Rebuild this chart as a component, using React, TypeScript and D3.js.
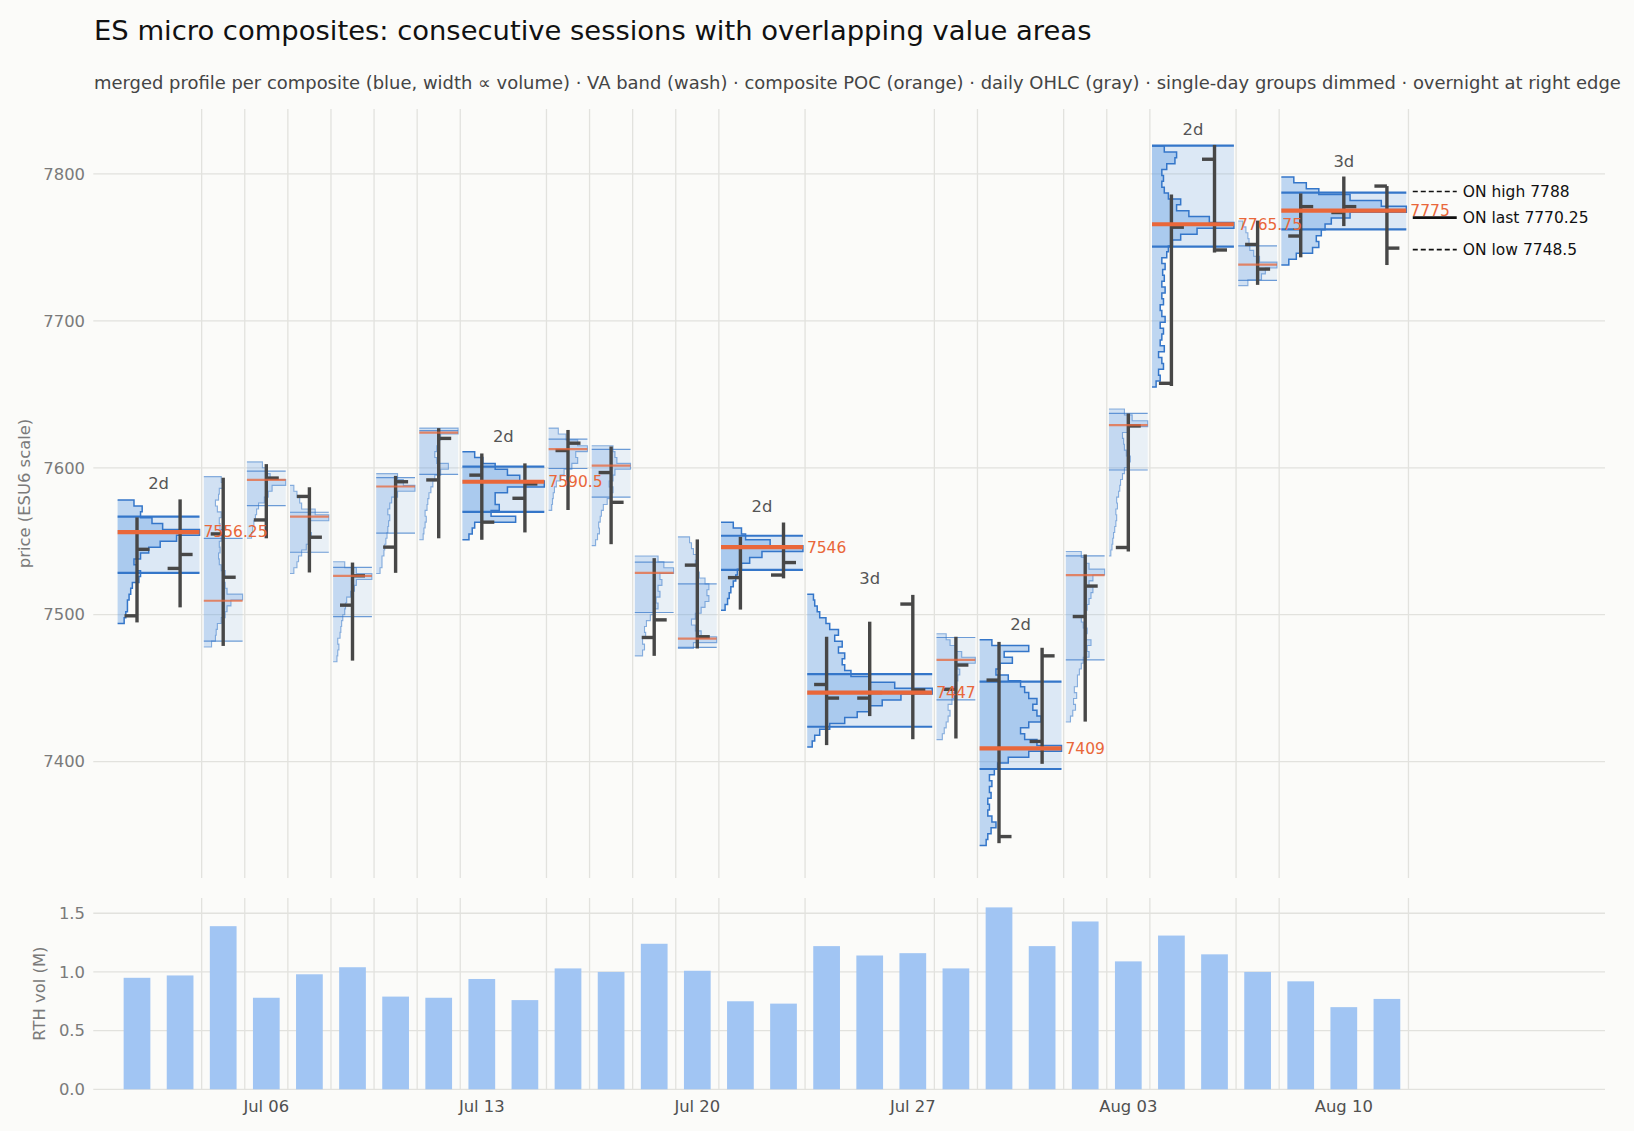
import React from 'react'
import * as d3 from 'd3'

// trading days (RTH sessions)
const days = [
  '2026-06-30', '2026-07-01', '2026-07-02',
  '2026-07-06', '2026-07-07', '2026-07-08', '2026-07-09', '2026-07-10',
  '2026-07-13', '2026-07-14', '2026-07-15', '2026-07-16', '2026-07-17',
  '2026-07-20', '2026-07-21', '2026-07-22', '2026-07-23', '2026-07-24',
  '2026-07-27', '2026-07-28', '2026-07-29', '2026-07-30', '2026-07-31',
  '2026-08-03', '2026-08-04', '2026-08-05', '2026-08-06', '2026-08-07',
  '2026-08-10', '2026-08-11',
]

const opens = [7499.25, 7531.5, 7555, 7564.5, 7580.5, 7506.5, 7546, 7591.75, 7595, 7579.25, 7611.75, 7596.75, 7484.5, 7533.75, 7525.25, 7527, 7452.5, 7443.25, 7507.25, 7449.25, 7455.5, 7413.75, 7498.75, 7545.75, 7657.5, 7810, 7752, 7757.75, 7773.75, 7791.75]
const highs = [7566.25, 7578.5, 7593.25, 7602.5, 7586.75, 7535.5, 7594.5, 7627, 7609.75, 7603, 7625.75, 7614.5, 7538.5, 7551.25, 7553, 7562.75, 7485, 7495.25, 7513.5, 7485, 7481.5, 7477.5, 7541, 7637, 7786, 7819.75, 7768.25, 7786.75, 7798.25, 7791.75]
const lows = [7494.75, 7505, 7478.75, 7552, 7528.75, 7468.75, 7528.5, 7552, 7551, 7556, 7571.25, 7548, 7472, 7477, 7503.5, 7524.75, 7411.25, 7431, 7415.25, 7415.75, 7344.5, 7398.5, 7427.25, 7543, 7655.75, 7746.5, 7724.5, 7743.25, 7764.5, 7738]
const closes = [7544.5, 7541, 7525.5, 7593, 7552.75, 7526.5, 7590.5, 7620, 7563, 7589, 7616.75, 7576.5, 7496.5, 7485, 7546, 7535.5, 7443.25, 7447, 7448.75, 7465.75, 7349, 7472, 7519.5, 7628.5, 7763.75, 7748.25, 7735.25, 7777.75, 7777.75, 7749.5]

// RTH volume, millions of contracts
const rthVolume = [0.95, 0.97, 1.39, 0.78, 0.98, 1.04, 0.79, 0.78, 0.94, 0.76, 1.03, 1.0, 1.24, 1.01, 0.75, 0.73, 1.22, 1.14, 1.16, 1.03, 1.55, 1.22, 1.43, 1.09, 1.31, 1.15, 1.0, 0.92, 0.7, 0.77]

// composites: number of consecutive sessions merged
const groupSizes = [2, 1, 1, 1, 1, 1, 1, 2, 1, 1, 1, 1, 2, 3, 1, 2, 1, 1, 2, 1, 3]
const pocs = [7556.25, 7509.5, 7591.75, 7566.75, 7526.5, 7587.25, 7624, 7590.5, 7612.75, 7601.5, 7528.5, 7483.75, 7546, 7447, 7469.25, 7409, 7527, 7629, 7765.75, 7738.25, 7775]
const vahs = [7566.75, 7552, 7597.75, 7569.75, 7532.25, 7593.25, 7625.25, 7600.75, 7619.5, 7612.5, 7535.75, 7521, 7553.75, 7459.5, 7484.5, 7454.5, 7540, 7637, 7819.25, 7751, 7787.25]
const vals = [7528.5, 7482, 7574.25, 7542.5, 7498.75, 7555.5, 7595.5, 7570, 7599.5, 7580, 7501.5, 7477.75, 7530.5, 7423.75, 7442, 7395, 7469.25, 7598.5, 7750.5, 7727.5, 7762.25]

// merged volume profiles, 4-point bins from the low bin upwards (relative volume, 100 = POC)
const BIN = 4
const profileLows = [7494, 7478, 7552, 7528, 7468, 7528, 7551, 7551, 7571, 7547, 7472, 7477, 7503, 7410, 7415, 7343, 7427, 7540, 7655, 7724, 7738]
const profileVols = [
  [8, 10, 12, 12, 14, 16, 18, 26, 28, 24, 20, 28, 38, 52, 72, 100, 55, 42, 28, 30, 20],
  [20, 30, 32, 35, 45, 55, 60, 70, 100, 60, 55, 50, 55, 45, 40, 38, 42, 40, 45, 48, 42, 40, 45, 35, 30, 38, 40, 50, 45],
  [12, 15, 18, 22, 25, 30, 45, 55, 65, 100, 60, 50, 40],
  [10, 18, 22, 30, 42, 50, 55, 48, 50, 100, 65, 30, 25, 18, 10],
  [10, 12, 15, 12, 18, 20, 22, 25, 30, 32, 35, 45, 55, 60, 100, 60, 30],
  [10, 15, 15, 20, 22, 25, 28, 30, 32, 35, 30, 35, 40, 55, 100, 70, 55],
  [10, 12, 15, 18, 15, 20, 22, 25, 30, 35, 40, 55, 75, 45, 40, 45, 50, 55, 100],
  [8, 12, 15, 65, 35, 45, 40, 40, 55, 100, 70, 55, 40, 25, 15],
  [8, 10, 12, 15, 20, 30, 40, 60, 75, 70, 100, 75, 45, 25],
  [10, 15, 20, 18, 22, 25, 30, 40, 50, 55, 45, 55, 60, 100, 65, 60, 55],
  [20, 25, 20, 28, 25, 30, 40, 50, 60, 55, 65, 60, 70, 65, 100, 75, 60],
  [40, 100, 60, 45, 35, 45, 60, 70, 80, 75, 80, 70, 55, 50, 45, 50, 40, 35, 30],
  [5, 8, 10, 12, 15, 18, 20, 25, 35, 50, 100, 60, 30, 25, 15],
  [4, 6, 10, 18, 30, 40, 50, 60, 75, 100, 70, 50, 35, 30, 28, 30, 25, 28, 22, 25, 18, 15, 10, 8, 6, 5],
  [15, 20, 25, 30, 35, 30, 40, 45, 40, 50, 55, 60, 55, 100, 65, 50, 35, 25],
  [8, 10, 14, 20, 15, 10, 12, 10, 14, 12, 15, 12, 18, 22, 35, 60, 100, 70, 55, 50, 60, 75, 70, 65, 70, 60, 55, 50, 35, 20, 25, 40, 30, 60, 15],
  [12, 18, 25, 20, 28, 22, 30, 30, 35, 40, 45, 60, 55, 65, 50, 55, 45, 40, 50, 55, 60, 65, 70, 60, 70, 100, 60, 50, 40],
  [5, 8, 10, 12, 15, 18, 20, 18, 22, 20, 25, 28, 30, 35, 40, 50, 55, 45, 40, 38, 35, 50, 100, 60, 40],
  [5, 10, 8, 14, 12, 8, 15, 10, 12, 14, 10, 16, 12, 10, 14, 12, 16, 12, 15, 13, 16, 12, 18, 20, 25, 35, 55, 100, 70, 45, 30, 35, 20, 15, 12, 14, 12, 18, 28, 30, 15],
  [25, 60, 70, 100, 55, 40, 30, 28, 25, 20, 12],
  [6, 12, 25, 30, 28, 32, 35, 40, 55, 100, 80, 55, 30, 20, 10],
]

// overnight session levels
const onLevels = [
  { label: 'ON high', value: 7788, dash: '5,3', width: 1.6 },
  { label: 'ON last', value: 7770.25, dash: null, width: 2.6 },
  { label: 'ON low', value: 7748.5, dash: '5,3', width: 1.6 },
]

const priceTicks = [7400, 7500, 7600, 7700, 7800]
const volTicks = [0, 0.5, 1.0, 1.5]

const W = 1634
const H = 1131
const FONT = 'DejaVu Sans'
const BG = '#fbfbf9'
const GRID = '#e2e2de'
const BLUE = '#4a8fe2'
const LINEBLUE = '#3476c9'
const ORANGE = '#e9673a'
const OHLC = '#474747'

const x = d3.scaleLinear().domain([-1.014, 34.06]).range([93.3, 1605])
const yP = d3.scaleLinear().domain([7320.8, 7844.2]).range([878, 109])
const yV = d3.scaleLinear().domain([0, 1.63]).range([1089.3, 898])
const fmtDay = d3.timeFormat('%b %d')
const parseDay = d3.timeParse('%Y-%m-%d')

const composites = groupSizes.map((n, k) => {
  const first = d3.sum(groupSizes.slice(0, k))
  return {
    k,
    n,
    first,
    last: first + n - 1,
    poc: pocs[k],
    vah: vahs[k],
    val: vals[k],
    lo: profileLows[k],
    vols: profileVols[k],
  }
})

const line = d3.line<[number, number]>()

export default function App() {
  const tickDays = days
    .map((d, i) => ({ d: parseDay(d) as Date, i }))
    .filter((t) => t.d.getDay() === 1)

  return (
    <svg
      width={W}
      height={H}
      style={{ position: 'absolute', left: 0, top: 0, display: 'block' }}
      fontFamily={FONT}
    >
      <rect width={W} height={H} fill={BG} />
      <text x={94} y={39.5} fontSize={27.4} fill="#111">
        ES micro composites: consecutive sessions with overlapping value areas
      </text>
      <text x={94} y={89} fontSize={17.95} fill="#444">
        merged profile per composite (blue, width ∝ volume) · VA band (wash) · composite POC (orange) · daily OHLC (gray) · single-day groups dimmed · overnight at right edge
      </text>

      {/* grids */}
      {priceTicks.map((t) => (
        <g key={'p' + t}>
          <line x1={93.3} x2={1605} y1={yP(t)} y2={yP(t)} stroke={GRID} strokeWidth={1.3} />
          <text x={85} y={yP(t)} dy="0.35em" textAnchor="end" fontSize={16.4} fill="#7a7a7a">
            {t}
          </text>
        </g>
      ))}
      {volTicks.map((t) => (
        <g key={'v' + t}>
          <line x1={93.3} x2={1605} y1={yV(t)} y2={yV(t)} stroke={GRID} strokeWidth={1.3} />
          <text x={85} y={yV(t)} dy="0.35em" textAnchor="end" fontSize={16.4} fill="#7a7a7a">
            {d3.format('.1f')(t)}
          </text>
        </g>
      ))}
      {composites.map((c) => (
        <g key={'b' + c.k}>
          <line x1={x(c.last + 0.5)} x2={x(c.last + 0.5)} y1={109} y2={878} stroke={GRID} strokeWidth={1.3} />
          <line x1={x(c.last + 0.5)} x2={x(c.last + 0.5)} y1={898} y2={1089.3} stroke={GRID} strokeWidth={1.3} />
        </g>
      ))}

      <text
        transform={`translate(24,${(109 + 878) / 2}) rotate(-90)`}
        textAnchor="middle"
        dominantBaseline="central"
        fontSize={16.4}
        fill="#7a7a7a"
      >
        price (ESU6 scale)
      </text>
      <text
        transform={`translate(39,${(898 + 1089.3) / 2}) rotate(-90)`}
        textAnchor="middle"
        dominantBaseline="central"
        fontSize={16.4}
        fill="#7a7a7a"
      >
        RTH vol (M)
      </text>

      {/* volume bars */}
      {rthVolume.map((v, i) => (
        <rect
          key={'vb' + i}
          x={x(i - 0.31)}
          width={x(0.31) - x(-0.31)}
          y={yV(v)}
          height={yV(0) - yV(v)}
          fill="#a1c5f3"
        />
      ))}
      {tickDays.map((t) => (
        <text key={'xt' + t.i} x={x(t.i)} y={1112} textAnchor="middle" fontSize={16.4} fill="#505050">
          {fmtDay(t.d)}
        </text>
      ))}

      {/* composites: wash + profile + VA lines */}
      {composites.map((c) => {
        const dim = c.n === 1
        const x0 = x(c.first - 0.45)
        const x1 = x(c.last + 0.45)
        const w = x1 - x0
        const pts: [number, number][] = [[x0, yP(c.lo)]]
        c.vols.forEach((v, j) => {
          const xr = x0 + (v / 100) * w
          pts.push([xr, yP(c.lo + j * BIN)], [xr, yP(c.lo + (j + 1) * BIN)])
        })
        pts.push([x0, yP(c.lo + c.vols.length * BIN)])
        return (
          <g key={'c' + c.k}>
            <rect
              x={x0}
              width={w}
              y={yP(c.vah)}
              height={yP(c.val) - yP(c.vah)}
              fill={BLUE}
              opacity={dim ? 0.1 : 0.17}
            />
            <path d={(line(pts) as string) + 'Z'} fill={BLUE} opacity={dim ? 0.24 : 0.34} />
            <path
              d={line(pts) as string}
              fill="none"
              stroke={LINEBLUE}
              strokeWidth={dim ? 1.1 : 1.5}
              opacity={dim ? 0.55 : 1}
            />
            {[c.vah, c.val].map((p, j) => (
              <line
                key={j}
                x1={x0}
                x2={x1}
                y1={yP(p)}
                y2={yP(p)}
                stroke={LINEBLUE}
                strokeWidth={dim ? 1.2 : 2.2}
                opacity={dim ? 0.7 : 1}
              />
            ))}
          </g>
        )
      })}

      {/* daily OHLC */}
      {days.map((_, i) => (
        <g key={'o' + i} stroke={OHLC} strokeWidth={3.4}>
          <line x1={x(i)} x2={x(i)} y1={yP(highs[i])} y2={yP(lows[i])} />
          <line x1={x(i - 0.29)} x2={x(i)} y1={yP(opens[i])} y2={yP(opens[i])} />
          <line x1={x(i)} x2={x(i + 0.29)} y1={yP(closes[i])} y2={yP(closes[i])} />
        </g>
      ))}

      {/* POC lines and labels */}
      {composites.map((c) => {
        const dim = c.n === 1
        const x0 = x(c.first - 0.45)
        const x1 = x(c.last + 0.45)
        const top = Math.max(c.lo + c.vols.length * BIN, d3.max(highs.slice(c.first, c.last + 1)) as number)
        return (
          <g key={'poc' + c.k}>
            <line
              x1={x0}
              x2={x1}
              y1={yP(c.poc)}
              y2={yP(c.poc)}
              stroke={ORANGE}
              strokeWidth={dim ? 2.2 : 4.2}
              opacity={dim ? 0.75 : 1}
            />
            {!dim && (
              <>
                <text x={x1 + 4} y={yP(c.poc)} dy="0.35em" fontSize={15.5} fill={ORANGE}>
                  {String(c.poc)}
                </text>
                <text x={(x0 + x1) / 2} y={yP(top) - 10} textAnchor="middle" fontSize={16.4} fill="#555">
                  {c.n}d
                </text>
              </>
            )}
          </g>
        )
      })}

      {/* overnight levels */}
      {onLevels.map((o) => (
        <g key={o.label}>
          <line
            x1={x(29.6)}
            x2={x(30.62)}
            y1={yP(o.value)}
            y2={yP(o.value)}
            stroke="#111"
            strokeWidth={o.width}
            strokeDasharray={o.dash ?? undefined}
          />
          <text x={x(30.76)} y={yP(o.value)} dy="0.35em" fontSize={15.5} fill="#111">
            {o.label} {o.value}
          </text>
        </g>
      ))}
    </svg>
  )
}
